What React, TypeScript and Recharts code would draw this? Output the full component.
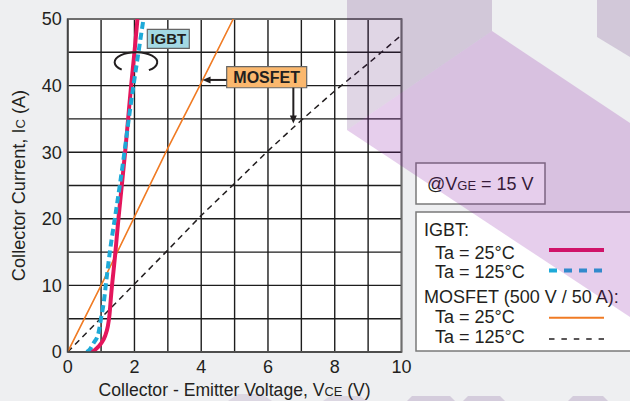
import React from "react";
import {
  LineChart,
  Line,
  XAxis,
  YAxis,
  CartesianGrid,
  ReferenceArea,
  ReferenceLine,
  ReferenceDot,
  Label,
} from "recharts";

// IGBT, Ta = 25°C
const IGBT_25C_VCE = [0.67, 0.8, 0.92, 1.03, 1.12, 1.2, 1.25, 1.3, 1.42, 1.52, 1.62, 1.72, 1.81, 1.9, 2.0, 2.09];
const IGBT_25C_IC = [0, 0.25, 0.8, 1.5, 2.4, 3.8, 5.5, 8.5, 14.5, 20, 25, 30, 35, 40, 45, 50];

// IGBT, Ta = 125°C
const IGBT_125C_VCE = [0.57, 0.68, 0.77, 0.92, 1.0, 1.09, 1.14, 1.27, 1.42, 1.56, 1.7, 1.83, 1.97, 2.12, 2.27];
const IGBT_125C_IC = [0, 0.5, 1.3, 2.8, 5.1, 7.8, 10, 15.3, 20.3, 25, 30, 35, 40, 45, 50];

// MOSFET (500 V / 50 A), Ta = 25°C
const MOS_25C_VCE = [0, 1, 2, 3, 4, 4.96];
const MOS_25C_IC = [0, 10, 20.3, 30.6, 40.4, 50];

// MOSFET (500 V / 50 A), Ta = 125°C
const MOS_125C_VCE = [0, 1, 2, 3, 4, 5, 6, 7, 8, 9, 10];
const MOS_125C_IC = [0, 5.1, 10.2, 15.3, 20.5, 25.3, 30.2, 34.8, 39.2, 43.3, 47.6];

const X_TICKS = [0, 1, 2, 3, 4, 5, 6, 7, 8, 9, 10];
const Y_TICKS = [0, 5, 10, 15, 20, 25, 30, 35, 40, 45, 50];

const INK = "#231f20";
const FONT = '"Liberation Sans", Arial, Helvetica, sans-serif';

const zip = (vs: number[], is: number[]) => vs.map((v, k) => ({ v, i: is[k] }));

const SERIES = [
  { key: "mos125", data: zip(MOS_125C_VCE, MOS_125C_IC), color: "#231f20", width: 1.5, dash: "6 4.5", curve: "linear" },
  { key: "mos25", data: zip(MOS_25C_VCE, MOS_25C_IC), color: "#f07b24", width: 1.6, dash: undefined, curve: "linear" },
  { key: "igbt25", data: zip(IGBT_25C_VCE, IGBT_25C_IC), color: "#e4165c", width: 4, dash: undefined, curve: "monotone" },
  { key: "igbt125", data: zip(IGBT_125C_VCE, IGBT_125C_IC), color: "#1eaad8", width: 4, dash: "7 4", curve: "monotone" },
];

const renderXTitle = (props: any) => {
  const vb = props.viewBox || {};
  return (
    <text x={vb.x + vb.width / 2} y={vb.y + 44} textAnchor="middle" fill={INK} fontSize={17.6} fontFamily={FONT}>
      Collector - Emitter Voltage, V<tspan fontSize={12.8}>CE</tspan> (V)
    </text>
  );
};

const renderYTitle = (props: any) => {
  const vb = props.viewBox || {};
  const x = vb.x + 17.5;
  const y = vb.y + vb.height / 2;
  return (
    <text x={x} y={y} transform={`rotate(-90, ${x}, ${y})`} textAnchor="middle" fill={INK} fontSize={18.2} fontFamily={FONT}>
      Collector Current, I<tspan fontSize={13}>C</tspan> (A)
    </text>
  );
};

const arrowLeft = (p: any) => (
  <polygon points={`${p.cx},${p.cy} ${p.cx + 8},${p.cy - 3.5} ${p.cx + 8},${p.cy + 3.5}`} fill={INK} />
);
const arrowDown = (p: any) => (
  <polygon points={`${p.cx},${p.cy} ${p.cx - 3.5},${p.cy - 8} ${p.cx + 3.5},${p.cy - 8}`} fill={INK} />
);
const rotationArc = (p: any) => (
  <path
    d={`M ${p.cx - 13.6} ${p.cy + 8} A 21.3 10 0 1 1 ${p.cx + 13.6} ${p.cy + 8.5}`}
    fill="none"
    stroke={INK}
    strokeWidth={2}
  />
);

function Overlay() {
  const t = { fill: INK, fontSize: 18, fontFamily: FONT };
  return (
    <svg width={630} height={401} style={{ position: "absolute", left: 0, top: 0, pointerEvents: "none" }}>
      <rect x={416} y={163} width={129} height={41} fill="#fff" stroke="#7a7a7a" strokeWidth={1.5} />
      <text x={427} y={189.5} {...t}>
        @V<tspan fontSize={13}>GE</tspan> = 15 V
      </text>

      <rect x={416} y={212} width={240} height={139} fill="#fff" stroke="#7a7a7a" strokeWidth={1.5} />
      <text x={424} y={236} {...t}>IGBT:</text>
      <text x={435} y={259} {...t}>Ta = 25°C</text>
      <text x={435} y={278} {...t}>Ta = 125°C</text>
      <text x={424} y={303} {...t}>MOSFET (500 V / 50 A):</text>
      <text x={435} y={323} {...t}>Ta = 25°C</text>
      <text x={435} y={343} {...t}>Ta = 125°C</text>
      <line x1={549} x2={604} y1={250} y2={250} stroke="#e4165c" strokeWidth={4} />
      <line x1={549} x2={604} y1={270.5} y2={270.5} stroke="#1eaad8" strokeWidth={4} strokeDasharray="8 7" />
      <line x1={549} x2={604} y1={317.7} y2={317.7} stroke="#f07b24" strokeWidth={2} />
      <line x1={549} x2={604} y1={339} y2={339} stroke={INK} strokeWidth={1.6} strokeDasharray="5.5 6.9" />

      {/* decorative background shapes */}
      <polygon points="347,0 492,0 492,31 347,130" fill="rgba(70,10,100,0.17)" />
      <polygon points="492,31 630,123 630,317 347,130" fill="rgba(130,10,160,0.2)" />
      <polygon points="597,0 630,0 630,57 597,37" fill="rgba(70,10,100,0.17)" />
      <polygon points="407,401 412,396 450,396 455,401" fill="rgba(70,10,100,0.15)" />
      <polygon points="463,401 468,396 500,396 505,401" fill="rgba(70,10,100,0.15)" />
      <polygon points="568,401 573,396 603,396 608,401" fill="rgba(70,10,100,0.15)" />
      <polygon points="228,401 238,394 262,394 272,401" fill="rgba(70,10,100,0.1)" />
      <polygon points="323,401 330,396 360,396 367,401" fill="rgba(70,10,100,0.1)" />
    </svg>
  );
}

export default function App() {
  return (
    <div style={{ position: "absolute", left: 0, top: 0, width: 630, height: 401, background: "#eeeff1", fontFamily: FONT }}>
      <LineChart width={630} height={401} margin={{ top: 19, right: 228.5, bottom: 0, left: 7.7 }}>
        <CartesianGrid stroke="#1d1d1d" strokeWidth={1.4} fill="#fff" fillOpacity={1} />
        <XAxis
          type="number"
          dataKey="v"
          domain={[0, 10]}
          ticks={X_TICKS}
          allowDataOverflow
          height={49}
          tickSize={0}
          tickMargin={8}
          tickFormatter={(v: number) => (v % 2 === 0 ? String(v) : "")}
          tick={{ fill: INK, fontSize: 18, fontFamily: FONT }}
          axisLine={{ stroke: "#444", strokeWidth: 1.6 }}
        >
          <Label content={renderXTitle} />
        </XAxis>
        <YAxis
          type="number"
          dataKey="i"
          domain={[0, 50]}
          ticks={Y_TICKS}
          allowDataOverflow
          width={60}
          tickSize={0}
          tickMargin={6}
          tickFormatter={(v: number) => (v % 10 === 0 ? String(v) : "")}
          tick={{ fill: INK, fontSize: 18, fontFamily: FONT }}
          axisLine={{ stroke: "#444", strokeWidth: 1.6 }}
        >
          <Label content={renderYTitle} />
        </YAxis>
        <ReferenceArea x1={0} x2={10} y1={0} y2={50} fill="none" stroke="#6e6e6e" strokeWidth={1.8} />

        {SERIES.map((s) => (
          <Line
            key={s.key}
            data={s.data}
            dataKey="i"
            type={s.curve as any}
            stroke={s.color}
            strokeWidth={s.width}
            strokeDasharray={s.dash}
            dot={false}
            activeDot={false}
            isAnimationActive={false}
          />
        ))}

        <ReferenceDot x={2.025} y={43.6} shape={rotationArc} />
        <ReferenceArea
          x1={2.385}
          x2={3.643}
          y1={45.6}
          y2={48.45}
          fill="#a3d9e4"
          fillOpacity={1}
          stroke="#666"
          strokeWidth={1.2}
          label={{ value: "IGBT", position: "center", fill: INK, fontSize: 15, fontWeight: 700, fontFamily: FONT }}
        />
        <ReferenceArea
          x1={4.763}
          x2={7.16}
          y1={39.68}
          y2={42.84}
          fill="#fbb86e"
          fillOpacity={1}
          stroke="#666"
          strokeWidth={1.2}
          label={{ value: "MOSFET", position: "center", fill: INK, fontSize: 16, fontWeight: 700, fontFamily: FONT }}
        />
        <ReferenceLine segment={[{ x: 4.763, y: 40.85 }, { x: 4.2, y: 40.85 }]} stroke={INK} strokeWidth={2} />
        <ReferenceDot x={4.04} y={40.85} shape={arrowLeft} />
        <ReferenceLine segment={[{ x: 6.76, y: 39.68 }, { x: 6.76, y: 35.3 }]} stroke={INK} strokeWidth={2} />
        <ReferenceDot x={6.76} y={34.3} shape={arrowDown} />
      </LineChart>
      <Overlay />
    </div>
  );
}
